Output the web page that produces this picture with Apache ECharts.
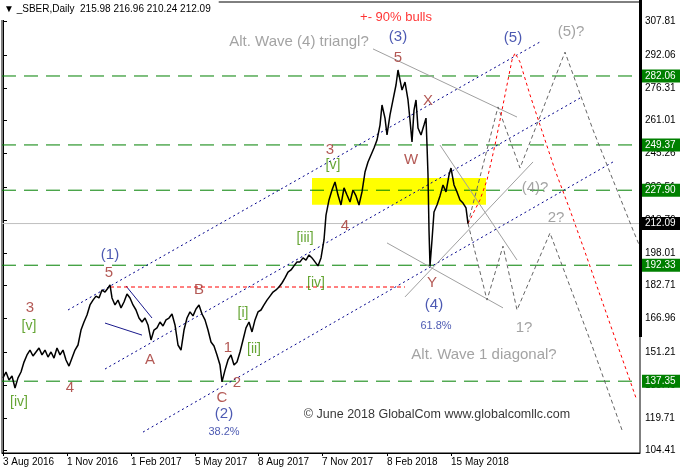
<!DOCTYPE html>
<html><head><meta charset="utf-8">
<script src="https://cdn.jsdelivr.net/npm/echarts@6/dist/echarts.min.js"></script>
<style>html,body{margin:0;padding:0;background:#fff}#c{width:680px;height:474px}</style>
</head><body><div id="c"></div>
<script>
// ---------- data ----------
const symbolName = '_SBER,Daily';
const ohlc = [215.98, 216.96, 210.24, 212.09];
const dateTickIdx = [0, 64, 128, 192, 255, 319, 384, 448];
const dateLabels = ['3 Aug 2016', '1 Nov 2016', '1 Feb 2017', '5 May 2017', '8 Aug 2017', '7 Nov 2017', '8 Feb 2018', '15 May 2018'];
const priceTicks = [307.81, 292.06, 276.31, 261.01, 245.26, 229.51, 213.76, 198.01, 182.71, 166.96, 151.21, 135.46, 119.71, 104.41];
const greenLevels = [282.06, 249.37, 227.90, 192.33, 137.35];
const lastPrice = 212.09;
const barRange = [-1, 637];

// [bar index, price]
const priceBars = [[0,138.9],[3,141.7],[6,137.9],[9,139.8],[12,134.1],[15,138.9],[18,141.7],[21,146.4],[24,149.8],[27,152.1],[30,149.3],[33,151.2],[36,153.1],[39,149.8],[42,152.1],[45,148.8],[48,151.2],[51,148.3],[54,153.1],[57,149.8],[60,152.1],[63,147.4],[66,144.5],[69,148.3],[72,152.1],[75,154.5],[78,161.6],[81,165.4],[84,168.7],[87,173.5],[90,175.8],[93,177.7],[96,176.8],[99,180.6],[102,179.6],[105,181.5],[107,183.0],[109,176.8],[112,173.5],[115,175.8],[118,172.1],[121,174.9],[124,178.7],[127,176.8],[130,173.5],[133,171.1],[136,167.3],[139,165.4],[142,167.3],[145,164.0],[148,156.9],[151,161.6],[154,162.6],[157,165.4],[160,163.5],[163,166.4],[166,167.3],[169,169.2],[172,164.0],[175,154.5],[178,152.1],[181,161.6],[184,167.3],[187,170.2],[190,168.3],[193,171.6],[196,173.5],[199,169.2],[202,166.4],[205,161.6],[208,155.9],[211,154.0],[214,149.8],[217,145.0],[219,137.0],[222,142.6],[225,147.4],[228,149.8],[231,145.0],[234,146.4],[237,151.2],[240,156.9],[243,162.6],[246,165.4],[249,160.7],[252,166.4],[255,170.2],[258,171.1],[261,173.5],[264,175.8],[267,177.7],[270,179.6],[273,180.6],[276,182.0],[279,183.9],[282,186.3],[285,189.1],[288,190.1],[291,192.0],[294,193.9],[297,193.9],[300,195.8],[303,194.8],[306,197.2],[309,195.8],[312,193.9],[315,192.0],[318,195.8],[321,204.3],[323,216.1],[326,223.3],[329,228.0],[332,231.8],[335,225.6],[338,220.9],[341,229.0],[344,225.6],[347,222.3],[350,228.0],[353,225.2],[356,220.9],[359,227.1],[362,236.5],[365,241.3],[368,244.6],[371,247.9],[374,251.7],[377,258.8],[379,268.3],[382,262.1],[384,254.1],[387,263.6],[390,270.7],[393,277.8],[395,284.9],[397,280.2],[399,275.4],[402,279.2],[405,270.7],[407,261.2],[409,250.8],[411,265.9],[413,270.7],[415,257.4],[418,254.1],[421,258.8],[423,262.1],[424,249.3],[425,235.1],[426,209.0],[427,192.0],[429,204.3],[431,217.6],[434,220.9],[437,225.2],[440,230.4],[443,227.1],[446,235.1],[448,238.4],[451,230.4],[454,227.1],[457,223.3],[460,221.8],[463,219.5],[465,212.1]];

const bullPath = [[465,212.1],[477,223.3],[484,232.7],[492,249.3],[499,265.9],[505,280.2],[509,289.6],[512,293.0],[517,288.7],[527,273.1],[537,258.8],[552,237.5],[567,218.5],[582,198.6],[597,178.2],[612,157.8],[625,140.3],[633,129.4]];
const trianglePath = [[465,212.1],[495,267.4],[517,238.4],[562,293.4],[590,256.5],[630,209.0],[637,201.0]];
const diagonalPath = [[465,212.1],[484,175.8],[500,201.4],[514,171.1],[547,207.6],[587,156.9],[619,114.2]];

const channelLines = [[[65,171.1],[537,298.2]], [[102,143.1],[577,271.6]], [[140,113.2],[610,241.3]]];
const grayLines = [[[370,294.9],[514,262.6]], [[437,249.3],[514,194.8]], [[402,177.3],[530,241.3]], [[384,202.9],[500,172.1]]];
const wedgeLines = [[[102,164.9],[139,159.2]], [[123,182.5],[149,167.3]]];
const bLevel = [[107,182.0],[402,182.0]];
const zone = [[309,233.7],[483,221.0]];

// [text, bar index, price, kind]
const labels = [
  ['+- 90% bulls',393,310.0,'note'],
  ['Alt. Wave (4) triangl?',296,298.2,'altBig'],
  ['(3)',395,300.6,'deg'],
  ['5',395,290.6,'wave'],
  ['(5)',510,300.1,'deg'],
  ['(5)?',568,302.9,'alt'],
  ['X',425,270.2,'wave'],
  ['W',408,242.2,'wave'],
  ['(4)?',532,229.0,'alt'],
  ['2?',553,214.7,'alt'],
  ['Y',429,183.9,'wave'],
  ['(4)',431,173.5,'deg'],
  ['61.8%',433,163.5,'pct'],
  ['1?',521,162.5,'alt'],
  ['Alt. Wave 1 diagonal?',481,149.8,'altBig'],
  ['\u00a9 June 2018 GlobalCom www.globalcomllc.com',434,121.3,'copy'],
  ['(1)',107,197.2,'deg'],
  ['5',106,188.6,'wave'],
  ['3',27,172.1,'wave'],
  ['[v]',26,163.5,'sub'],
  ['[iv]',16,127.5,'sub'],
  ['4',67,134.1,'wave'],
  ['A',147,147.4,'wave'],
  ['B',196,180.6,'wave'],
  ['C',219,129.4,'wave'],
  ['(2)',221,121.8,'deg'],
  ['38.2%',221,113.2,'pct'],
  ['1',225,153.1,'wave'],
  ['2',234,136.5,'wave'],
  ['[i]',240,169.7,'sub'],
  ['[ii]',251,152.6,'sub'],
  ['[iii]',302,205.2,'sub'],
  ['[iv]',313,183.9,'sub'],
  ['[v]',330,239.9,'sub'],
  ['3',327,247.0,'wave'],
  ['4',342,210.9,'wave']
];

// ---------- styles ----------
const FONT = 'Liberation Sans, Arial, DejaVu Sans, sans-serif';
const labelStyles = {
  wave:   { color: '#a0302a', fontSize: 15 },
  deg:    { color: '#1f2f9f', fontSize: 15 },
  sub:    { color: '#3f8f00', fontSize: 14 },
  alt:    { color: '#8c8c8c', fontSize: 15 },
  altBig: { color: '#8c8c8c', fontSize: 15 },
  pct:    { color: '#1f2f9f', fontSize: 11 },
  note:   { color: '#ff0000', fontSize: 13 },
  copy:   { color: '#000000', fontSize: 12.5 }
};

function lineSeries(data, color, type, width, z) {
  return { type: 'line', data: data, showSymbol: false, symbol: 'none', silent: true, z: z || 3,
    lineStyle: { color: color, type: type, width: width || 1 }, itemStyle: { color: color }, animation: false };
}

const series = [];
// yellow zone
series.push({ type: 'line', data: [], z: 1, silent: true,
  markArea: { silent: true, itemStyle: { color: '#ffff00', opacity: 1 },
    data: [[{ coord: zone[0] }, { coord: zone[1] }]] } });
// horizontal level lines (drawn as plain line series)
greenLevels.forEach(v => series.push(lineSeries([[barRange[0], v], [barRange[1], v]], '#008000', [14, 8], 1, 2)));
series.push(lineSeries([[barRange[0], lastPrice], [barRange[1], lastPrice]], '#c0c0c0', 'solid', 1, 2));
// price boxes on the axis
const boxLabel = { show: true, position: 'end', distance: 2, formatter: p => p.value.toFixed(2),
  color: '#fff', padding: [2, 10, 1, 3], fontSize: 10, fontFamily: FONT, opacity: 1 };
series.push({ type: 'line', data: [], z: 7, clip: false, silent: true,
  markLine: { silent: true, symbol: ['none', 'none'], animation: false,
    lineStyle: { color: 'rgba(0,0,0,0)', width: 1 },
    label: Object.assign({ backgroundColor: '#008000' }, boxLabel),
    data: greenLevels.map(v => ({ yAxis: v })) } });
series.push({ type: 'line', data: [], z: 7, clip: false, silent: true,
  markLine: { silent: true, symbol: ['none', 'none'], animation: false,
    lineStyle: { color: 'rgba(0,0,0,0)', width: 1 },
    label: Object.assign({ backgroundColor: '#000' }, boxLabel),
    data: [{ yAxis: lastPrice }] } });
// channel lines
channelLines.forEach(l => series.push(lineSeries(l, '#00008b', [2, 3], 1)));
grayLines.forEach(l => series.push(lineSeries(l, '#a0a0a0', 'solid', 1)));
wedgeLines.forEach(l => series.push(lineSeries(l, '#1a1a8c', 'solid', 1)));
series.push(lineSeries(bLevel, '#ff0000', [4, 3], 1));
// price
series.push(lineSeries(priceBars, '#000000', 'solid', 1.5, 5));
// projections
series.push(lineSeries(diagonalPath, '#666666', [4, 3], 1, 4));
series.push(lineSeries(trianglePath, '#666666', [4, 3], 1, 4));
series.push(lineSeries(bullPath, '#ff0000', [3, 3], 1, 4));
// text labels
series.push({ type: 'scatter', z: 6, silent: true, symbolSize: 1, itemStyle: { color: 'rgba(0,0,0,0)' },
  data: labels.map(l => ({ value: [l[1], l[2]],
    label: Object.assign({ show: true, position: 'inside', formatter: l[0], fontFamily: FONT,
      align: 'center', verticalAlign: 'middle' }, labelStyles[l[3]]) })) });

const chart = echarts.init(document.getElementById('c'), null, { renderer: 'canvas' });
chart.setOption({
  animation: false,
  backgroundColor: '#fff',
  title: { text: '\u25BC ' + symbolName + '  ' + ohlc.map(v => v.toFixed(2)).join(' '), left: 0, top: 0,
    padding: [4, 8, 6, 4], backgroundColor: '#fff',
    textStyle: { fontSize: 10, fontWeight: 'normal', color: '#000', fontFamily: FONT } },
  grid: { left: 2, top: 2, right: 40, bottom: 21, show: true, borderColor: '#000', borderWidth: 1, backgroundColor: '#fff' },
  xAxis: { type: 'value', min: barRange[0], max: barRange[1],
    axisLine: { show: true, lineStyle: { color: '#000' } },
    axisTick: { show: true, customValues: dateTickIdx, length: 3, lineStyle: { color: '#000' } },
    axisLabel: { customValues: dateTickIdx, formatter: v => dateLabels[dateTickIdx.indexOf(v)] || '',
      align: 'left', margin: 4, fontSize: 10, color: '#000', fontFamily: FONT },
    splitLine: { show: false } },
  yAxis: { type: 'value', position: 'right', min: 103.29, max: 317.15,
    axisLine: { show: true, lineStyle: { color: '#000' } },
    axisTick: { show: true, customValues: priceTicks, length: 4, lineStyle: { color: '#000' } },
    axisLabel: { customValues: priceTicks, formatter: v => v.toFixed(2), margin: 5, fontSize: 10, color: '#000', fontFamily: FONT },
    splitLine: { show: false } },
  graphic: [{ type: 'rect', z: 100, shape: { x: 639, y: 0, width: 3, height: 337 }, style: { fill: '#000' } }],
  series: series
});
</script></body></html>
